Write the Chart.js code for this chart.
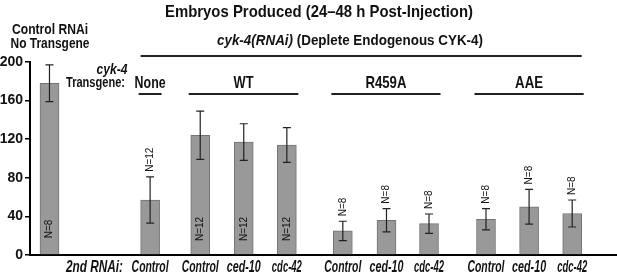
<!DOCTYPE html>
<html>
<head>
<meta charset="utf-8">
<script src="https://cdn.jsdelivr.net/npm/chart.js@4/dist/chart.umd.min.js"></script>
<style>
  html, body { margin: 0; padding: 0; background: #fff; }
  #wrap { width: 617px; height: 275px; position: relative; }
</style>
</head>
<body>
<div id="wrap"><canvas id="embryoChart"></canvas></div>
<script>
// bar values (embryos produced, mean +/- error)
const positions = [1.36, 8.39, 11.89, 14.93, 17.94, 21.85, 24.9, 27.87, 31.85, 34.86, 37.87];
const secondRnai = ['', 'Control', 'Control', 'ced-10', 'cdc-42', 'Control', 'ced-10', 'cdc-42', 'Control', 'ced-10', 'cdc-42'];
const transgene = ['Control', 'None', 'WT', 'WT', 'WT', 'R459A', 'R459A', 'R459A', 'AAE', 'AAE', 'AAE'];
const means = [178, 57, 124, 117, 114, 25, 36, 32.5, 37, 50, 43];
const errors = [19, 24, 25, 19, 18, 10, 12, 10, 11, 18, 14];
const nCounts = [8, 12, 12, 12, 12, 8, 8, 8, 8, 8, 8];
const yTicks = [0, 40, 80, 120, 160, 200];
const rowLabelPos = 4.5;

const SANS = '"Liberation Sans", Arial, sans-serif';

function text(ctx, str, x, y, font, align, maxW) {
  ctx.font = font;
  ctx.textAlign = align || 'center';
  ctx.textBaseline = 'middle';
  if (maxW) ctx.fillText(str, x, y, maxW);
  else ctx.fillText(str, x, y);
}

const errorBars = {
  id: 'errorBars',
  afterDatasetsDraw(chart) {
    const ctx = chart.ctx;
    const y = chart.scales.y;
    const bars = chart.getDatasetMeta(0).data;
    ctx.save();
    ctx.strokeStyle = '#222';
    ctx.fillStyle = '#111';
    ctx.lineWidth = 1.2;
    bars.forEach((bar, i) => {
      const hi = y.getPixelForValue(means[i] + errors[i]);
      const lo = y.getPixelForValue(means[i] - errors[i]);
      ctx.beginPath();
      ctx.moveTo(bar.x, hi); ctx.lineTo(bar.x, lo);
      ctx.moveTo(bar.x - 4, hi); ctx.lineTo(bar.x + 4, hi);
      ctx.moveTo(bar.x - 4, lo); ctx.lineTo(bar.x + 4, lo);
      ctx.stroke();

      // N= labels, rotated
      ctx.save();
      ctx.font = '10px ' + SANS;
      ctx.textBaseline = 'middle';
      if (means[i] > 100) {
        ctx.translate(bar.x, y.getPixelForValue(0) - 26);
        ctx.rotate(-Math.PI / 2);
        ctx.textAlign = 'center';
      } else {
        ctx.translate(bar.x, hi - 5);
        ctx.rotate(-Math.PI / 2);
        ctx.textAlign = 'left';
      }
      ctx.fillText('N=' + nCounts[i], 0, 0);
      ctx.restore();
    });
    ctx.restore();
  }
};

const xTickPos = [rowLabelPos].concat(positions.slice(1));
const xTickLabels = ['2nd RNAi:'].concat(secondRnai.slice(1));
const narrowW = { '2nd RNAi:': 57, 'Control': 37, 'ced-10': 34, 'cdc-42': 30 };
const groupW = { 'None': 31, 'WT': 20, 'R459A': 41, 'AAE': 28 };

const annotations = {
  id: 'annotations',
  afterDraw(chart) {
    const ctx = chart.ctx;
    const bars = chart.getDatasetMeta(0).data;
    const xs = chart.scales.x;
    const half = 9.5;
    ctx.save();
    ctx.fillStyle = '#111';
    ctx.strokeStyle = '#222';

    text(ctx, 'Embryos Produced (24\u201348 h Post-Injection)', 319, 12, 'bold 17px ' + SANS, 'center', 308);
    text(ctx, 'Control RNAi', 50, 30, 'bold 14px ' + SANS, 'center', 76);
    text(ctx, 'No Transgene', 50, 44, 'bold 14px ' + SANS, 'center', 79);

    // cyk-4(RNAi) header
    const left = bars[1].x - half;
    const right = bars[bars.length - 1].x + half;
    const p1 = 'cyk-4(RNAi)';
    const p2 = ' (Deplete Endogenous CYK-4)';
    ctx.font = 'italic bold 15px ' + SANS;
    const w1 = ctx.measureText(p1).width;
    ctx.font = 'bold 15px ' + SANS;
    const w2 = ctx.measureText(p2).width;
    const k = Math.min(1, 266 / (w1 + w2));
    const x0 = 217;
    text(ctx, p1, x0, 41, 'italic bold 15px ' + SANS, 'left', w1 * k);
    text(ctx, p2, x0 + w1 * k, 41, 'bold 15px ' + SANS, 'left', w2 * k);
    ctx.lineWidth = 2;
    ctx.beginPath();
    ctx.moveTo(left, 56); ctx.lineTo(right, 56);
    ctx.stroke();

    text(ctx, 'cyk-4', 112, 70, 'italic bold 14px ' + SANS, 'center', 31);
    text(ctx, 'Transgene:', 125, 83, 'bold 14px ' + SANS, 'right', 59);

    // transgene groups
    const groups = [];
    transgene.forEach((g, i) => {
      if (i === 0) return;
      const last = groups[groups.length - 1];
      if (last && last.name === g) last.end = i;
      else groups.push({ name: g, start: i, end: i });
    });
    groups.forEach((g) => {
      const a = bars[g.start].x - half - 2;
      const b = bars[g.end].x + half + 2;
      text(ctx, g.name, (a + b) / 2, 83, 'bold 17px ' + SANS, 'center', groupW[g.name]);
      ctx.lineWidth = 2;
      ctx.beginPath();
      ctx.moveTo(a, 94); ctx.lineTo(b, 94);
      ctx.stroke();
    });

    // 2nd RNAi row under the axis, placed by the x scale
    xTickLabels.forEach((lab, i) => {
      const px = xs.getPixelForValue(xTickPos[i]);
      text(ctx, lab, px, 267, 'italic bold 17px ' + SANS, 'center', narrowW[lab]);
    });
    ctx.restore();
  }
};

new Chart(document.getElementById('embryoChart').getContext('2d'), {
  type: 'bar',
  data: {
    datasets: [{
      data: positions.map((x, i) => ({ x: x, y: means[i] })),
      backgroundColor: '#999999',
      borderColor: '#737373',
      borderWidth: 1,
      barThickness: 19
    }]
  },
  options: {
    responsive: true,
    maintainAspectRatio: false,
    animation: false,
    layout: { padding: { top: 62, right: 0, left: 0, bottom: 0 } },
    plugins: { legend: { display: false }, tooltip: { enabled: false } },
    scales: {
      x: {
        type: 'linear',
        min: 0,
        max: 41,
        offset: false,
        afterBuildTicks: (s) => { s.ticks = xTickPos.map((v) => ({ value: v })); },
        afterFit: (s) => { s.height = 20; },
        grid: { display: false },
        border: { color: '#000', width: 2 },
        ticks: { display: false }
      },
      y: {
        min: 0,
        max: 200,
        afterBuildTicks: (s) => { s.ticks = yTicks.map((v) => ({ value: v })); },
        afterFit: (s) => { s.width = 30; },
        grid: { drawOnChartArea: false, tickLength: 5, color: '#000', lineWidth: 1.5 },
        border: { color: '#000', width: 2 },
        ticks: {
          padding: 2,
          color: '#111',
          font: { family: SANS, size: 14, weight: 'bold' }
        }
      }
    }
  },
  plugins: [errorBars, annotations]
});
</script>
</body>
</html>
